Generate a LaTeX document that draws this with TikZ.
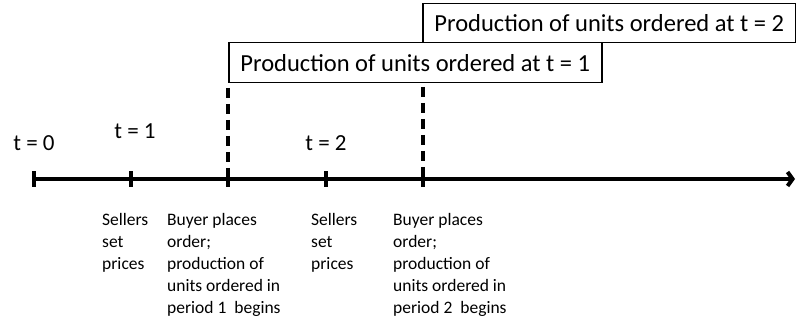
\documentclass[tikz,border=0pt]{standalone}
\usepackage{fontspec}
\setmainfont{Carlito}
\usetikzlibrary{arrows.meta}

\tikzset{
  box/.style={draw,line width=1.5pt,anchor=north west,font=\fontsize{24.5}{28}\selectfont},
  tlabel/.style={font=\fontsize{23}{27}\selectfont},
  event/.style={anchor=north west,align=left,font=\fontsize{17.5}{22}\selectfont},
  tickline/.style={line width=3.5pt},
  guide/.style={line width=4pt,dash pattern=on 10pt off 6pt},
  axis/.style={line width=4pt,-{Straight Barb[length=5pt,width=14pt]}}
}

\begin{document}
\begin{tikzpicture}[x=1pt,y=-1pt]
\useasboundingbox (0,0) rectangle (796,323);
\begin{scope}[every node/.style={inner sep=0pt}]
\coordinate (k0) at (34,179);
\coordinate (k1) at (131,179);
\coordinate (k2) at (228,179);
\coordinate (k3) at (326,179);
\coordinate (k4) at (423,179);
\coordinate (end) at (795,179);

\node[box,minimum width=373pt,minimum height=40pt] (b1) at (228,42) {Production of units ordered at t = 1};
\node[box,minimum width=373pt,minimum height=39pt] (b2) at (422,3) {Production of units ordered at t = 2};

\coordinate (d2) at (228,88);
\coordinate (d4) at (423,87);
\draw[guide] (d2) -- (k2);
\draw[guide] (d4) -- (k4);

\draw[axis] (k0) -- (end);
\draw[tickline] ([yshift=-8pt]k0) -- ([yshift=8pt]k0);
\draw[tickline] ([yshift=-8pt]k1) -- ([yshift=8pt]k1);
\draw[tickline] ([yshift=-8pt]k2) -- ([yshift=8pt]k2);
\draw[tickline] ([yshift=-8pt]k3) -- ([yshift=8pt]k3);
\draw[tickline] ([yshift=-8pt]k4) -- ([yshift=8pt]k4);

\node[tlabel] (t0) at (34,143) {t = 0};
\node[tlabel] (t1) at (135,131) {t = 1};
\node[tlabel] (t2) at (326,143) {t = 2};

\node[event] (e1) at (102,213) {Sellers\\set\\prices};
\node[event] (e2) at (167,213) {Buyer places\\order;\\production of\\units ordered in\\period 1\ \ begins};
\node[event] (e3) at (311,213) {Sellers\\set\\prices};
\node[event] (e4) at (393,213) {Buyer places\\order;\\production of\\units ordered in\\period 2\ \ begins};
\end{scope}
\end{tikzpicture}
\end{document}
